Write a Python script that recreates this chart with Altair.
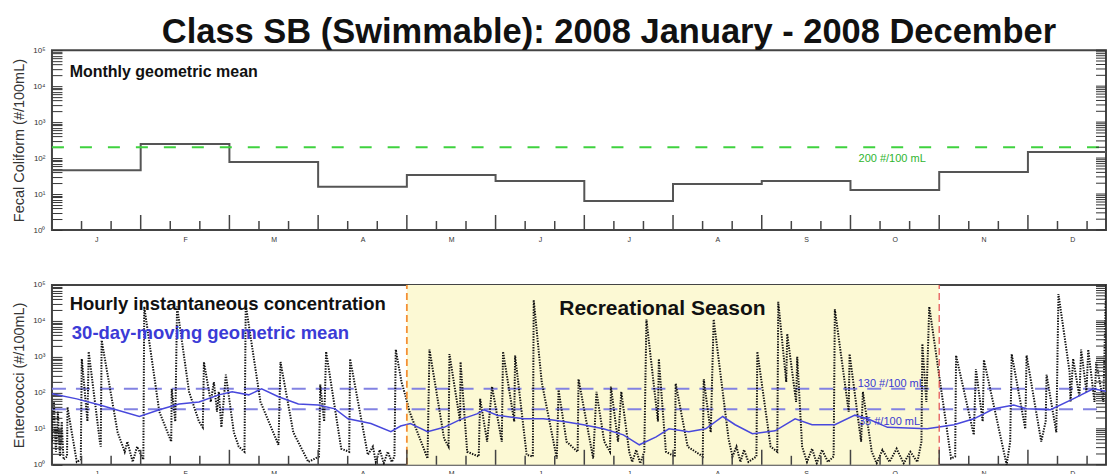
import altair as alt
import pandas as pd

FONT = "Liberation Sans"

# ---------------- data ----------------
# x is expressed in months since 2008-01-01 (0 = 1 Jan, 12 = 31 Dec)
month_start = [0, 1, 2, 3, 4, 5, 6, 7, 8, 9, 10, 11, 12]
month_letters = ["J", "F", "M", "A", "M", "J", "J", "A", "S", "O", "N", "D"]
fecal_monthly_gm = [46, 245, 78, 16, 34, 23, 6.4, 19, 23, 13, 41, 147, 147]
fecal_standard = [200]
entero_standards = [130, 35]
season_start = [4]    # 1 May
season_end = [10]     # 1 Nov

# hourly instantaneous enterococci (vertices of the dotted trace)
hourly_t = [0.0, 0.022, 0.045, 0.067, 0.09, 0.11, 0.13, 0.17, 0.175, 0.28, 0.325, 0.336, 0.40, 0.414,
            0.54, 0.55, 0.56, 0.74, 0.82, 0.85, 0.91, 0.96, 1.03, 1.04, 1.21, 1.344, 1.35, 1.39, 1.41,
            1.545, 1.657, 1.70, 1.713, 1.79, 1.825, 1.86, 1.88, 1.91, 1.96, 2.05, 2.105, 2.17, 2.184,
            2.35, 2.553, 2.576, 2.72, 2.89, 3.01, 3.024, 3.068, 3.09, 3.26, 3.35, 3.36, 3.56, 3.617,
            3.65, 3.695, 3.74, 3.785, 3.83, 3.86, 3.875, 3.94, 3.987, 4.03, 4.233, 4.255, 4.42, 4.47,
            4.48, 4.60, 4.605, 4.68, 4.81, 4.826, 4.905, 4.96, 5.07, 5.084, 5.21, 5.22, 5.35, 5.42,
            5.43, 5.52, 5.69, 5.71, 5.80, 5.925, 5.935, 6.10, 6.137, 6.225, 6.29, 6.30, 6.38, 6.417,
            6.506, 6.54, 6.585, 6.63, 6.676, 6.70, 6.83, 6.84, 6.92, 7.02, 7.03, 7.165, 7.335, 7.346,
            7.425, 7.458, 7.626, 7.67, 7.715, 7.76, 7.80, 7.85, 7.94, 7.95, 8.10, 8.175, 8.186, 8.276,
            8.287, 8.387, 8.40, 8.455, 8.51, 8.567, 8.62, 8.68, 8.746, 8.81, 8.824, 8.98, 8.99, 9.12,
            9.14, 9.24, 9.295, 9.36, 9.44, 9.52, 9.60, 9.675, 9.754, 9.80, 9.81, 9.855, 9.888, 10.134,
            10.18, 10.19, 10.39, 10.414, 10.49, 10.504, 10.76, 10.80, 10.817, 10.97, 10.985, 11.15,
            11.20, 11.21, 11.32, 11.344, 11.47, 11.48, 11.51, 11.58, 11.60, 11.66, 11.68, 11.75, 11.77,
            11.85, 11.88, 11.915]
hourly_v = [4.4, 56, 2.3, 30, 1.7, 16, 1.4, 1.7, 40, 1.2, 1.4, 880, 16, 1400,
            4.4, 3.2, 2900, 8, 2.3, 4.4, 1.2, 3.2, 1.4, 25000, 30, 4.4, 130, 16, 25000,
            107, 16, 11, 720, 56, 200, 30, 107, 11, 320, 8, 3.2, 2.3, 28000,
            56, 3.6, 720, 8, 1.2, 1.7, 170, 16, 1400, 2.8, 2.3, 880, 1.9, 3.2,
            1.2, 2.6, 1.1, 2.3, 1.2, 1.7, 1600, 200, 78, 30, 1.5, 1600, 5.3, 3.2,
            1200, 16, 720, 2.3, 1.7, 68, 4.4, 150, 4.4, 1400, 16, 1100, 1.9, 1.7,
            38000, 200, 1.5, 120, 4.4, 2.3, 240, 1.5, 107, 4.4, 2.3, 150, 4.4, 107,
            2.3, 1.2, 2.6, 1.1, 2.3, 11000, 16, 880, 2.3, 1.7, 180, 3.2, 1.7, 240,
            8, 11000, 5.3, 1.7, 3.2, 1.2, 2.6, 1.2, 1.7, 1400, 3.2, 2.3, 34000, 200,
            4400, 56, 1000, 3.2, 1.2, 2.8, 1.1, 2.6, 1.2, 1.7, 21000, 30, 1200, 4.4,
            107, 2.3, 1.1, 2.6, 1.2, 2.8, 1.1, 2.3, 1.2, 4.4, 2300, 56, 25000, 1.5,
            1.7, 1100, 6.8, 460, 16, 820, 1.0, 4.4, 1200, 10, 1100, 4.4,
            16, 320, 8, 56000, 380, 56, 880, 78, 1600, 107, 1600, 56, 720,
            56, 100000, 5000]

# 30-day moving geometric mean
gm30_t = [0.0, 0.28, 0.54, 0.985, 1.21, 1.433, 1.657, 1.88, 2.03, 2.217, 2.363, 2.553, 2.777, 3.0,
          3.19, 3.337, 3.595, 3.82, 3.93, 4.04, 4.233, 4.42, 4.60, 4.79, 4.87, 5.017, 5.32, 5.54,
          5.767, 5.99, 6.215, 6.44, 6.62, 6.81, 6.954, 7.178, 7.368, 7.56, 7.70, 7.895, 8.15, 8.376,
          8.567, 8.824, 9.05, 9.194, 9.418, 9.865, 10.168, 10.39, 10.616, 10.84, 10.985, 11.254,
          11.51, 11.736, 11.915]
gm30_v = [94, 68, 46, 22, 34, 49, 56, 88, 107, 88, 129, 78, 49, 46,
          36, 19, 14, 8.3, 12, 14, 8.3, 11, 18, 26, 34, 24, 19, 19,
          16, 13, 10, 6.8, 3.6, 6.0, 10, 8.3, 10, 22, 13, 7.3, 8.8, 19,
          13, 13, 24, 19, 11, 10, 13, 19, 36, 46, 36, 34,
          68, 129, 107]

# ---------------- scales / axes ----------------
# the original figure is cut off at the right during December: show up to ~Dec 27
W, H = 1055, 180
X0, X1 = 0, 11.88
Y0, Y1 = 1, 100000
xs = alt.Scale(domain=[X0, X1], nice=False, zero=False)
ys = alt.Scale(type="log", domain=[Y0, Y1], nice=False)

ytick_vals = [m * 10 ** k for k in range(5) for m in range(1, 10)] + [100000]
label_pos = [m + 0.5 for m in range(12)]
major_ticks = [m for m in month_start if m <= X1]
minor_ticks = [m + f for m in range(12) for f in (1 / 3, 2 / 3) if m + f <= X1]

sup = "['\u2070','\u00b9','\u00b2','\u00b3','\u2074','\u2075']"
ylab_expr = ("abs(log(datum.value)/LN10 - round(log(datum.value)/LN10)) < 0.001 ? '10' + "
             + sup + "[round(log(datum.value)/LN10)] : ''")
xlab_expr = "[" + ",".join("'%s'" % m for m in month_letters) + "][floor(datum.value)]"


def left_axis(title):
    return alt.Axis(values=ytick_vals, title=title, orient="left", offset=-10, tickSize=10,
                    tickWidth=1, tickColor="#333", domain=False, grid=False,
                    labelExpr=ylab_expr, labelFont=FONT, labelFontSize=8, labelColor="#333",
                    labelPadding=7, labelOverlap=False, labelFlush=False,
                    titleFont=FONT, titleFontSize=14.5, titleFontWeight="normal",
                    titleColor="#333", titleX=-38, titleBaseline="alphabetic", titleAngle=270)


label_axis = alt.Axis(values=label_pos, labelExpr=xlab_expr, ticks=False, domain=False,
                      grid=False, labelFont=FONT, labelFontSize=7, labelColor="#333",
                      labelPadding=5, labelFlush=False, title="", orient="bottom")

# NOTE: only the first layer of each panel declares axes; the other layers leave the
# axis unspecified so that the explicit settings of the first layer win the merge.


def tick_layers():
    """Inward month / 10-day ticks on the bottom edge and log ticks on the right edge."""
    tmaj = alt.Chart(pd.DataFrame({"t": major_ticks})).mark_rule(
        color="#444", strokeWidth=1.5).encode(
        x=alt.X("t:Q", scale=xs), y=alt.value(H), y2=alt.value(H - 15))
    tmin = alt.Chart(pd.DataFrame({"t": minor_ticks})).mark_rule(
        color="#444", strokeWidth=1.5).encode(
        x=alt.X("t:Q", scale=xs), y=alt.value(H), y2=alt.value(H - 9))
    tright = alt.Chart(pd.DataFrame({"v": ytick_vals})).mark_rule(
        color="#333", strokeWidth=1).encode(
        y=alt.Y("v:Q", scale=ys), x=alt.value(W - 10), x2=alt.value(W))
    return [tmaj, tmin, tright]


def hrule(values, **kw):
    return alt.Chart(pd.DataFrame({"v": values})).mark_rule(**kw).encode(
        x=alt.X(datum=X0, scale=xs), x2=alt.X2(datum=X1),
        y=alt.Y("v:Q", scale=ys))


def vrule(values, **kw):
    return alt.Chart(pd.DataFrame({"t": values})).mark_rule(**kw).encode(
        x=alt.X("t:Q", scale=xs),
        y=alt.Y(datum=Y0, scale=ys), y2=alt.Y2(datum=Y1))


def text_layer(t, v, label, size, color="#111", align="left", baseline="alphabetic",
               weight="bold"):
    df = pd.DataFrame({"t": [t], "v": [v], "label": [label]})
    return alt.Chart(df).mark_text(align=align, baseline=baseline, fontSize=size,
                                   fontWeight=weight, font=FONT, color=color).encode(
        x=alt.X("t:Q", scale=xs),
        y=alt.Y("v:Q", scale=ys),
        text="label:N")


# ---------------- top panel ----------------
df_fc = pd.DataFrame({"t": month_start, "v": fecal_monthly_gm})
step = alt.Chart(df_fc).mark_line(interpolate="step-after", color="#555", strokeWidth=2,
                                  clip=True).encode(
    x=alt.X("t:Q", scale=xs, axis=label_axis),
    y=alt.Y("v:Q", scale=ys, axis=left_axis("Fecal Coliform (#/100mL)")))

top = alt.layer(
    step,
    hrule(fecal_standard, color="#3fd23f", strokeDash=[12, 16], strokeWidth=2),
    text_layer(9.47, 94, "200 #/100 mL", 11, color="#2fb52f", align="center",
               baseline="middle", weight="normal"),
    text_layer(0.2, 17800, "Monthly geometric mean", 16),
    *tick_layers()
).properties(
    width=W, height=H,
    title=alt.TitleParams("Class SB (Swimmable): 2008 January - 2008 December", fontSize=34.5,
                          font=FONT, fontWeight="bold", color="#111", anchor="middle",
                          frame="group", offset=-4, dx=30))

# ---------------- bottom panel ----------------
season = alt.Chart(pd.DataFrame({"s": season_start, "e": season_end})).mark_rect(
    color="#fcf9d4").encode(
    x=alt.X("s:Q", scale=xs, axis=label_axis), x2="e:Q",
    y=alt.Y(datum=Y0, scale=ys, axis=left_axis("Enterococci (#/100mL)")), y2=alt.Y2(datum=Y1))
hourly = alt.Chart(pd.DataFrame({"t": hourly_t, "v": hourly_v})).mark_line(
    color="#111", strokeWidth=2, strokeDash=[1.4, 1.3], clip=True).encode(
    x=alt.X("t:Q", scale=xs),
    y=alt.Y("v:Q", scale=ys))
gm30 = alt.Chart(pd.DataFrame({"t": gm30_t, "v": gm30_v})).mark_line(
    color="#4848dc", strokeWidth=1.5, clip=True).encode(
    x=alt.X("t:Q", scale=xs),
    y=alt.Y("v:Q", scale=ys))

bottom = alt.layer(
    season,
    hrule(entero_standards, color="#8282e2", strokeDash=[14, 10], strokeWidth=2),
    hourly, gm30,
    vrule(season_start, color="#f39035", strokeDash=[7, 4], strokeWidth=1.8),
    vrule(season_end, color="#e34c4c", strokeDash=[7, 4], strokeWidth=1.2),
    text_layer(0.2, 20000, "Hourly instantaneous concentration", 18.5),
    text_layer(0.224, 3160, "30-day-moving geometric mean", 18.5, color="#3b3bd6"),
    text_layer(6.88, 14700, "Recreational Season", 21, align="center"),
    text_layer(9.46, 178, "130 #/100 mL", 11, color="#3a3ad0", align="center",
               baseline="middle", weight="normal"),
    text_layer(9.44, 15.6, "35 #/100 mL", 11, color="#3a3ad0", align="center",
               baseline="middle", weight="normal"),
    *tick_layers()
).properties(width=W, height=H)

chart = alt.vconcat(top, bottom, spacing=55, bounds="flush").configure_view(
    stroke="#444", strokeWidth=2).properties(
    background="white", padding={"left": 2, "top": 5, "right": 0, "bottom": 0})

chart.save("out.html", embed_options={"renderer": "svg", "actions": False})
